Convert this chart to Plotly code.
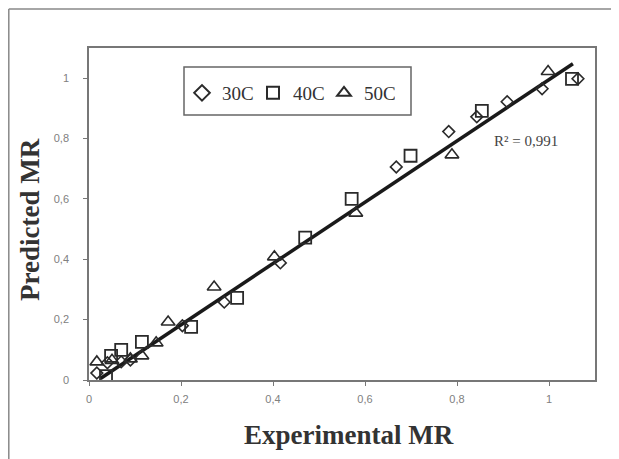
import plotly.graph_objects as go

# 30C (diamonds)
x30 = [0.017, 0.04, 0.07, 0.09, 0.203, 0.294, 0.416, 0.668, 0.782, 0.843, 0.909, 0.985, 1.063]
y30 = [0.023, 0.057, 0.06, 0.066, 0.18, 0.258, 0.388, 0.706, 0.823, 0.872, 0.922, 0.965, 0.998]
# 40C (squares)
x40 = [0.037, 0.048, 0.07, 0.115, 0.222, 0.322, 0.47, 0.571, 0.699, 0.854, 1.05]
y40 = [0.013, 0.08, 0.1, 0.126, 0.176, 0.272, 0.472, 0.6, 0.743, 0.892, 0.998]
# 50C (triangles)
x50 = [0.017, 0.05, 0.09, 0.115, 0.146, 0.172, 0.272, 0.403, 0.58, 0.789, 0.998]
y50 = [0.06, 0.065, 0.07, 0.08, 0.123, 0.192, 0.308, 0.408, 0.553, 0.746, 1.022]
# fitted line
fit_x = [0.025, 1.052]
fit_y = [0.005, 1.048]

tick_vals = [0, 0.2, 0.4, 0.6, 0.8, 1]
tick_text = ["0", "0,2", "0,4", "0,6", "0,8", "1"]

OFF = 8  # page body margin
PW, PH = 619, 459
W, H = PW - OFF, PH - OFF
PL, PT, PR, PB = 89, 48, 595, 380  # plot area in page pixels
L, T = PL - OFF, PT - OFF
R, B = PW - PR, PH - PB
pw, ph = PR - PL, PB - PT

def px(x):
    return (x - PL) / pw

def py(y):
    return (PB - y) / ph

mk = "#2a2a2a"
fig = go.Figure()
fig.add_trace(go.Scatter(x=fit_x, y=fit_y, mode="lines", line=dict(color="#1a1a1a", width=3.5),
                         showlegend=False, hoverinfo="skip"))
fig.add_trace(go.Scatter(x=x30, y=y30, mode="markers", name="30C",
                         marker=dict(symbol="diamond-open", size=9, color=mk, line=dict(width=1.6, color=mk))))
fig.add_trace(go.Scatter(x=x40, y=y40, mode="markers", name="40C",
                         marker=dict(symbol="square-open", size=12, color=mk, line=dict(width=1.8, color=mk))))
fig.add_trace(go.Scatter(x=x50, y=y50, mode="markers", name="50C",
                         marker=dict(symbol="triangle-up-open", size=12, color=mk, line=dict(width=1.6, color=mk))))

axis_common = dict(showline=True, linecolor="#777", linewidth=1.5, mirror=True, showgrid=False,
                   zeroline=False, ticks="outside", ticklen=4, tickcolor="#777",
                   tickvals=tick_vals, ticktext=tick_text,
                   tickfont=dict(family="Liberation Sans", size=11, color="#808080"))

fig.update_layout(
    width=W, height=H,
    margin=dict(l=L, r=R, t=T, b=B),
    paper_bgcolor="white", plot_bgcolor="white",
    xaxis=dict(range=[0, 1.1], ticklabelstandoff=4, **axis_common),
    yaxis=dict(range=[0, 1.1], ticklabelstandoff=12, **axis_common),
    legend=dict(orientation="h", x=px(182), y=py(93), xanchor="left", yanchor="middle",
                bgcolor="rgba(0,0,0,0)", borderwidth=0, entrywidth=26, entrywidthmode="pixels",
                font=dict(family="Liberation Serif", size=19, color="#333"), itemsizing="constant"),
    shapes=[
        dict(type="rect", xref="paper", yref="paper", x0=px(184), x1=px(411), y0=py(115), y1=py(67),
             line=dict(color="#666", width=1.5), fillcolor="rgba(0,0,0,0)"),
        dict(type="line", xref="paper", yref="paper", x0=px(8.8), x1=px(8.8), y0=py(9), y1=py(470),
             line=dict(color="#888", width=1.5)),
        dict(type="line", xref="paper", yref="paper", x0=px(8.8), x1=px(630), y0=py(9), y1=py(9),
             line=dict(color="#888", width=1.5)),
    ],
    annotations=[
        dict(text="R² = 0,991", xref="paper", yref="paper", x=px(526), y=py(141), showarrow=False,
             xanchor="center", yanchor="middle",
             font=dict(family="Liberation Serif", size=15, color="#444")),
        dict(text="<b>Experimental MR</b>", xref="paper", yref="paper", x=px(349), y=py(435),
             showarrow=False, xanchor="center", yanchor="middle",
             font=dict(family="Liberation Serif", size=27, color="#333")),
        dict(text="<b>Predicted MR</b>", xref="paper", yref="paper", x=px(30), y=py(220),
             showarrow=False, xanchor="center", yanchor="middle", textangle=-90,
             font=dict(family="Liberation Serif", size=27, color="#333")),
    ],
)

fig.write_html("out.html")
